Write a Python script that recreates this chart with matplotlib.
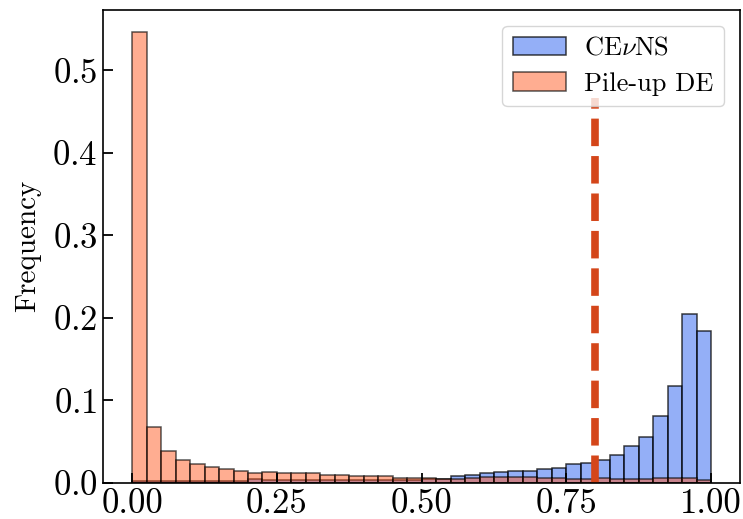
import numpy as np
import matplotlib
matplotlib.use("Agg")
import matplotlib.pyplot as plt

plt.rcParams["font.family"] = "serif"
plt.rcParams["font.serif"] = ["cmr10"]
plt.rcParams["mathtext.fontset"] = "cm"
plt.rcParams["axes.formatter.use_mathtext"] = True

# 40 bins of width 0.025 on [0, 1]
bin_edges = np.linspace(0.0, 1.0, 41)

cevns = [0.002, 0.002, 0.002, 0.002, 0.002, 0.002, 0.002, 0.0025,
         0.004, 0.003, 0.003, 0.0035, 0.0035, 0.0035, 0.0035, 0.0035,
         0.0035, 0.0035, 0.0035, 0.0035, 0.004,
         0.005, 0.0075, 0.009, 0.0115, 0.0125, 0.014, 0.0142, 0.0165, 0.018,
         0.0225, 0.0235, 0.027, 0.0337, 0.0446, 0.0555, 0.081, 0.117, 0.205, 0.1836]

pileup = [0.546, 0.0675, 0.038, 0.028, 0.0222, 0.019, 0.0166, 0.0145,
          0.012, 0.013, 0.0115, 0.012, 0.012, 0.0095, 0.0095, 0.0083,
          0.008, 0.0083, 0.0055, 0.006, 0.0052, 0.005, 0.005, 0.0055,
          0.0065, 0.007, 0.0065, 0.0065, 0.006, 0.006, 0.0045, 0.0048,
          0.0055, 0.005, 0.005, 0.005, 0.0052, 0.0055, 0.0062, 0.003]

cut_value = 0.8
cut_top = 0.467

fig = plt.figure(figsize=(7.43, 5.19), dpi=100)
ax = fig.add_axes([0.139, 0.070, 0.857, 0.911])

centers = bin_edges[:-1] + np.diff(bin_edges) / 2
ax.hist(centers, bins=bin_edges, weights=cevns, color=(0.3, 0.48, 0.95, 0.6),
        edgecolor=(0, 0, 0, 0.75), linewidth=1.1, label=r"CE$\nu$NS")
ax.hist(centers, bins=bin_edges, weights=pileup, color=(1.0, 0.33, 0.1, 0.48),
        edgecolor=(0, 0, 0, 0.65), linewidth=1.1, label="Pile-up DE")
ax.vlines(cut_value, 0, cut_top, colors="#d4461a", linewidth=5.5,
          linestyles=(0, (3.6, 1.3)))

ax.set_ylabel("Frequency", fontsize=21, labelpad=8)
ax.set_xticks([0.0, 0.25, 0.5, 0.75, 1.0])
ax.set_xticklabels(["0.00", "0.25", "0.50", "0.75", "1.00"])
ax.tick_params(direction="in", length=7, width=1.3, labelsize=25, pad=4)
for s in ax.spines.values():
    s.set_linewidth(1.2)

ax.legend(loc="upper right", fontsize=19, handlelength=2.0, handletextpad=0.7,
          labelspacing=0.45, borderaxespad=0.6)

fig.savefig("out.png", dpi=100)
